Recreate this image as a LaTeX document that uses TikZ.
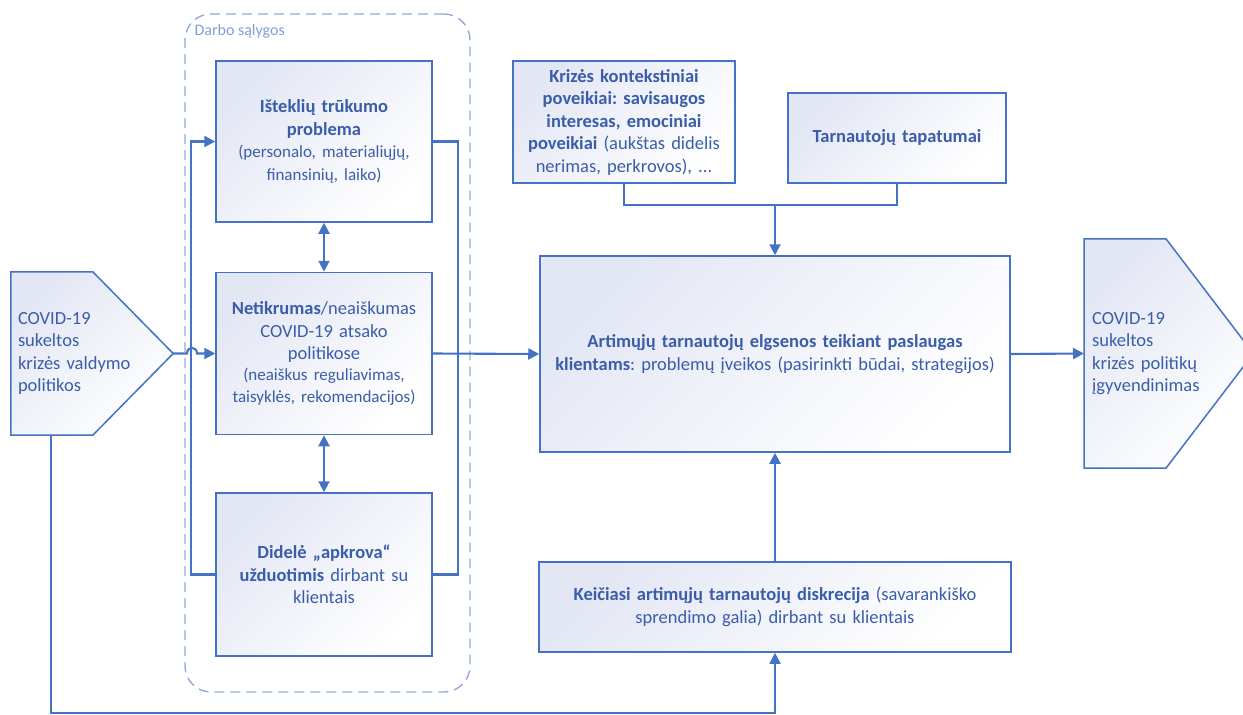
\documentclass[tikz,border=0pt]{standalone}
\usepackage{fontspec}
\setmainfont{Carlito}
\usetikzlibrary{shapes,arrows.meta,positioning,calc,backgrounds}

\definecolor{linecol}{HTML}{4472C4}
\definecolor{txtcol}{HTML}{3A5DAA}
\definecolor{dashcol}{HTML}{8FAADC}
\definecolor{shadecol}{HTML}{E3E7F4}
\newcommand{\parfont}{\fontsize{17}{20.5}\selectfont}
\frenchspacing

\begin{document}
\begin{tikzpicture}[x=1pt, y=-1pt,
	box/.style={draw=linecol, line width=1.5pt, top color=shadecol, bottom color=white, shading angle=45,
		text=txtcol, align=center, inner sep=4pt, font=\fontsize{18.5}{22.5}\selectfont},
	side/.style={text=txtcol, align=left, inner ysep=0pt, font=\fontsize{18.5}{22.5}\selectfont},
	pent/.style={draw=linecol, line width=1.5pt, top color=shadecol, bottom color=white, shading angle=45},
	frame/.style={draw=dashcol, line width=1.4pt, dash pattern=on 10pt off 6pt, rounded corners=26pt},
	wire/.style={draw=linecol, line width=2.1pt},
	arr/.style={wire, -{Triangle[length=11pt,width=11pt]}},
	darr/.style={wire, {Triangle[length=11pt,width=11pt]}-{Triangle[length=11pt,width=11pt]}}]
	\path[use as bounding box] (0,0) rectangle (1243,715);
	\clip (0,0) rectangle (1243,715);

	% darbo salygos
	\node[frame, minimum width=285, minimum height=678] (conditions) at (327.5,353) {};
	\node[anchor=west, text=dashcol!80!linecol, font=\fontsize{16}{18}\selectfont] (condlabel) at (191,31) {Darbo sąlygos};

	\node[box, minimum width=216, minimum height=161, text width=206] (cond1) at (324,141.5)
		{\textbf{Išteklių trūkumo}\\ \textbf{problema}\\[2pt] {\parfont (personalo, materialiųjų,\\ finansinių, laiko)}};
	\node[box, minimum width=216, minimum height=162, text width=206] (cond2) at (324,353.5)
		{\textbf{Netikrumas}/neaiškumas\\ COVID-19 atsako\\ politikose\\ {\parfont (neaiškus reguliavimas,\\ taisyklės, rekomendacijos)}};
	\node[box, minimum width=216, minimum height=163, text width=206] (cond3) at (324,574.5)
		{\textbf{Didelė „apkrova“}\\ \textbf{užduotimis} dirbant su\\ klientais};

	% kiti veiksniai
	\node[box, minimum width=222, minimum height=122, text width=212] (crisis) at (624,122)
		{\textbf{Krizės kontekstiniai}\\ \textbf{poveikiai: savisaugos}\\ \textbf{interesas, emociniai}\\ \textbf{poveikiai} (aukštas didelis\\ nerimas, perkrovos), ...};
	\node[box, minimum width=218, minimum height=90, text width=208] (ident) at (897,138)
		{\textbf{Tarnautojų tapatumai}};
	\node[box, minimum width=470, minimum height=196, text width=460] (behav) at (775,354)
		{\textbf{Artimųjų tarnautojų elgsenos teikiant paslaugas}\\ \textbf{klientams}: problemų įveikos (pasirinkti būdai, strategijos)};
	\node[box, minimum width=472, minimum height=90, text width=462] (discr) at (775,607)
		{\textbf{Keičiasi artimųjų tarnautojų diskrecija} (savarankiško\\ sprendimo galia) dirbant su klientais};

	% politikos
	\node[side, text width=148, minimum height=163, inner xsep=7pt] (covid) at (92,353.5)
		{COVID-19\\ sukeltos\\ krizės valdymo\\ politikos};
	\node[side, text width=153, minimum height=229, inner xsep=8pt, anchor=west] (impl) at (1084,353.5)
		{COVID-19\\ sukeltos\\ krizės politikų\\ įgyvendinimas};
	\begin{scope}[on background layer]
		\path[pent] (covid.north west) -- ++(82,0) -- (covid.east) -- ([xshift=82pt]covid.south west) -- (covid.south west) -- cycle;
		\path[pent] (impl.north west) -- ++(82,0) -- (impl.east) -- ([xshift=82pt]impl.south west) -- (impl.south west) -- cycle;
	\end{scope}

	\coordinate (join) at ([yshift=50pt]behav.north);

	\draw[arr] (covid.east) -- (187,353.5) .. controls (187,346) and (197,346) .. (197,353.5) -- (cond2.west);
	\draw[arr] (cond3.west) -- ++(-24,0) |- (cond1.west);
	\draw[wire] (cond1.east) -- ++(25,0) |- (cond3.east);
	\draw[darr] (cond1) -- (cond2);
	\draw[darr] (cond2) -- (cond3);
	\draw[arr] (cond2.east) -- (behav.west);
	\draw[wire] (crisis.south) |- (join) -| (ident.south);
	\draw[arr] (join) -- (behav.north);
	\draw[arr] (discr.north) -- (behav.south);
	\draw[arr] (behav.east) -- (impl.west);
	\draw[arr, line width=1.5pt] ([xshift=40pt]covid.south west) -- ++(0,278) -| (discr.south);
\end{tikzpicture}
\end{document}
